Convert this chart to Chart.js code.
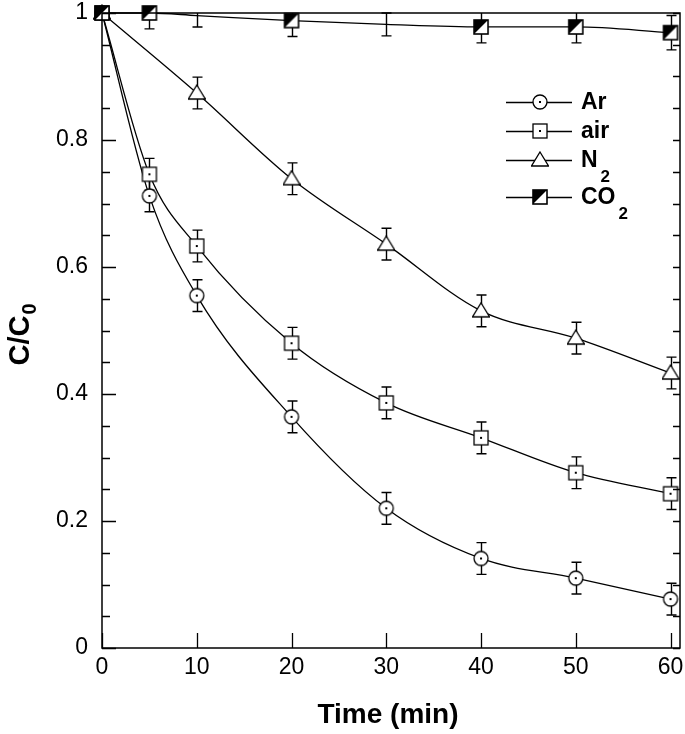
<!DOCTYPE html>
<html>
<head>
<meta charset="utf-8">
<script src="https://cdn.jsdelivr.net/npm/chart.js@4"></script>
<style>
    html, body { margin: 0; padding: 0; background: #fff; }
    #wrap { width: 685px; height: 734px; }
</style>
</head>
<body>
<div id="wrap"><canvas id="chart" width="685" height="734"></canvas></div>
<script>
const times = [0, 5, 10, 20, 30, 40, 50, 60];
const arValues = [1, 0.712, 0.555, 0.364, 0.220, 0.141, 0.110, 0.077];
const airValues = [1, 0.746, 0.633, 0.480, 0.386, 0.331, 0.276, 0.243];
const n2Values = [1, null, 0.874, 0.739, 0.636, 0.531, 0.488, 0.433];
const co2Values = [1, 1, 0.996, 0.988, 0.982, 0.978, 0.978, 0.969];
const arErrors = [0, 0.025, 0.025, 0.025, 0.025, 0.025, 0.025, 0.025];
const airErrors = [0, 0.025, 0.025, 0.025, 0.025, 0.025, 0.025, 0.025];
const n2Errors = [0, 0, 0.025, 0.025, 0.025, 0.025, 0.025, 0.025];
const co2Errors = [0, 0.025, 0.018, 0.025, 0.018, 0.025, 0.025, 0.027];
const co2Markers = [true, true, false, true, false, true, true, true];
const xTicks = [0, 10, 20, 30, 40, 50, 60];
const yMajorTicks = [0, 0.2, 0.4, 0.6, 0.8, 1];
const yMinorTicks = [0.05, 0.1, 0.15, 0.25, 0.3, 0.35, 0.45, 0.5, 0.55, 0.65, 0.7, 0.75, 0.85, 0.9, 0.95];

const seriesNames = ['Ar', 'air', 'N', 'CO'];
const seriesSubs = ['', '', '2', '2'];

const FONT = '"Liberation Sans", Arial, sans-serif';

function makeMarker(kind) {
    const size = 18;
    const c = document.createElement('canvas');
    c.width = size;
    c.height = size;
    const g = c.getContext('2d');
    const m = size / 2;
    g.lineWidth = 1.3;
    g.strokeStyle = '#000';
    g.fillStyle = '#fff';
    if (kind === 'circle') {
        g.beginPath();
        g.arc(m, m, 7, 0, Math.PI * 2);
        g.fill();
        g.stroke();
        g.fillStyle = '#000';
        g.fillRect(m - 1, m - 1, 2, 2);
    } else if (kind === 'square') {
        g.fillRect(m - 7, m - 7, 14, 14);
        g.strokeRect(m - 7, m - 7, 14, 14);
        g.fillStyle = '#000';
        g.fillRect(m - 1, m - 1, 2, 2);
    } else if (kind === 'triangle') {
        g.beginPath();
        g.moveTo(m, m - 8);
        g.lineTo(m + 8.5, m + 6);
        g.lineTo(m - 8.5, m + 6);
        g.closePath();
        g.fill();
        g.stroke();
    } else if (kind === 'half') {
        g.fillRect(m - 7, m - 7, 14, 14);
        g.fillStyle = '#000';
        g.beginPath();
        g.moveTo(m - 7, m - 7);
        g.lineTo(m + 7, m - 7);
        g.lineTo(m - 7, m + 7);
        g.closePath();
        g.fill();
        g.lineWidth = 1.6;
        g.strokeRect(m - 7, m - 7, 14, 14);
    }
    return c;
}

const markers = {
    circle: makeMarker('circle'),
    square: makeMarker('square'),
    triangle: makeMarker('triangle'),
    half: makeMarker('half')
};
const markerList = [markers.circle, markers.square, markers.triangle, markers.half];

function toPoints(values) {
    return times.map((t, i) => ({ x: t, y: values[i] })).filter(p => p.y !== null);
}

function errorsFor(values, errs) {
    return times.map((t, i) => ({ x: t, y: values[i], e: errs[i] })).filter(p => p.y !== null && p.e > 0);
}

const errorSets = [
    errorsFor(arValues, arErrors),
    errorsFor(airValues, airErrors),
    errorsFor(n2Values, n2Errors),
    errorsFor(co2Values, co2Errors)
];

const errorBarPlugin = {
    id: 'errorBars',
    beforeDatasetsDraw(chart) {
        const ctx = chart.ctx;
        const xs = chart.scales.x;
        const ys = chart.scales.y;
        ctx.save();
        ctx.strokeStyle = '#000';
        ctx.lineWidth = 1.4;
        errorSets.forEach(set => {
            set.forEach(p => {
                const px = Math.round(xs.getPixelForValue(p.x)) + 0.5;
                const top = ys.getPixelForValue(Math.min(p.y + p.e, 1));
                const bot = ys.getPixelForValue(p.y - p.e);
                ctx.beginPath();
                ctx.moveTo(px, top);
                ctx.lineTo(px, bot);
                if (p.y + p.e <= 1) {
                    ctx.moveTo(px - 5, top);
                    ctx.lineTo(px + 5, top);
                }
                ctx.moveTo(px - 5, bot);
                ctx.lineTo(px + 5, bot);
                ctx.stroke();
            });
        });
        ctx.restore();
    }
};

const framePlugin = {
    id: 'frame',
    afterDatasetsDraw(chart) {
        const ctx = chart.ctx;
        const a = chart.chartArea;
        const xs = chart.scales.x;
        const ys = chart.scales.y;
        ctx.save();
        ctx.strokeStyle = '#000';
        ctx.lineWidth = 1.5;
        ctx.strokeRect(a.left, a.top, a.right - a.left, a.bottom - a.top);
        ctx.lineWidth = 1.3;
        ctx.beginPath();
        yMajorTicks.forEach(v => {
            const py = Math.round(ys.getPixelForValue(v)) + 0.5;
            ctx.moveTo(a.left, py);
            ctx.lineTo(a.left + 14, py);
            ctx.moveTo(a.right, py);
            ctx.lineTo(a.right - 7, py);
        });
        yMinorTicks.forEach(v => {
            const py = Math.round(ys.getPixelForValue(v)) + 0.5;
            ctx.moveTo(a.left, py);
            ctx.lineTo(a.left + 8, py);
            ctx.moveTo(a.right, py);
            ctx.lineTo(a.right - 7, py);
        });
        xTicks.forEach(v => {
            const px = Math.round(xs.getPixelForValue(v)) + 0.5;
            ctx.moveTo(px, a.bottom);
            ctx.lineTo(px, a.bottom - 15);
        });
        ctx.stroke();

        // axis titles
        ctx.fillStyle = '#000';
        ctx.font = 'bold 28px ' + FONT;
        ctx.textAlign = 'center';
        ctx.textBaseline = 'alphabetic';
        ctx.fillText('Time (min)', 388, 723);

        ctx.save();
        ctx.translate(29, 335);
        ctx.rotate(-Math.PI / 2);
        ctx.textAlign = 'left';
        ctx.font = 'bold 29px ' + FONT;
        const mainW = ctx.measureText('C/C').width;
        ctx.font = 'bold 20px ' + FONT;
        const subW = ctx.measureText('0').width;
        const start = -(mainW + subW) / 2;
        ctx.font = 'bold 29px ' + FONT;
        ctx.fillText('C/C', start, 0);
        ctx.font = 'bold 20px ' + FONT;
        ctx.fillText('0', start + mainW + 1, 7);
        ctx.restore();

        // legend
        const legendY = [102, 131, 160, 197];
        ctx.lineWidth = 1.3;
        legendY.forEach((ly, i) => {
            ctx.beginPath();
            ctx.moveTo(506, ly + 0.5);
            ctx.lineTo(572, ly + 0.5);
            ctx.stroke();
            const mk = markerList[i];
            ctx.drawImage(mk, 540 - mk.width / 2, ly - mk.height / 2);
            ctx.font = 'bold 23px ' + FONT;
            ctx.textAlign = 'left';
            ctx.textBaseline = 'middle';
            ctx.fillText(seriesNames[i], 581, ly + 1);
            if (seriesSubs[i]) {
                const w = ctx.measureText(seriesNames[i]).width;
                ctx.font = 'bold 17px ' + FONT;
                ctx.fillText(seriesSubs[i], 581 + w + 3, ly + 17);
            }
        });
        ctx.restore();
    }
};

function lineDataset(label, values, marker, showMarkers) {
    return {
        label: label,
        data: toPoints(values),
        borderColor: '#000',
        borderWidth: 1.3,
        backgroundColor: '#fff',
        cubicInterpolationMode: 'monotone',
        clip: false,
        pointStyle: marker,
        pointRadius: showMarkers
            ? showMarkers.filter((s, i) => values[i] !== null).map(s => (s ? 7 : 0))
            : 7,
        pointHoverRadius: 7
    };
}

const ctx = document.getElementById('chart').getContext('2d');
new Chart(ctx, {
    type: 'line',
    data: {
        datasets: [
            lineDataset('CO2', co2Values, markers.half, co2Markers),
            lineDataset('N2', n2Values, markers.triangle),
            lineDataset('air', airValues, markers.square),
            lineDataset('Ar', arValues, markers.circle)
        ]
    },
    options: {
        responsive: false,
        animation: false,
        devicePixelRatio: 1,
        layout: { autoPadding: false, padding: { left: 0, right: 5, top: 13, bottom: 0 } },
        plugins: {
            legend: { display: false },
            tooltip: { enabled: false }
        },
        scales: {
            x: {
                type: 'linear',
                min: 0,
                max: 61,
                grid: { display: false, drawTicks: false },
                border: { display: false },
                afterBuildTicks: scale => {
                    scale.ticks = xTicks.map(v => ({ value: v }));
                },
                afterFit: scale => {
                    scale.height = 86;
                    scale.paddingLeft = 0;
                    scale.paddingRight = 0;
                },
                ticks: {
                    color: '#000',
                    padding: 6,
                    maxRotation: 0,
                    autoSkip: false,
                    font: { family: FONT, size: 23 },
                    callback: v => String(v)
                }
            },
            y: {
                min: 0,
                max: 1,
                grid: { display: false, drawTicks: false },
                border: { display: false },
                afterBuildTicks: scale => {
                    scale.ticks = yMajorTicks.map(v => ({ value: v }));
                },
                afterFit: scale => {
                    scale.width = 102;
                    scale.paddingTop = 0;
                    scale.paddingBottom = 0;
                },
                ticks: {
                    color: '#000',
                    padding: 14,
                    autoSkip: false,
                    font: { family: FONT, size: 23 },
                    callback: v => (v === 0 ? '0' : v === 1 ? '1' : v.toFixed(1))
                }
            }
        }
    },
    plugins: [errorBarPlugin, framePlugin]
});
</script>
</body>
</html>
